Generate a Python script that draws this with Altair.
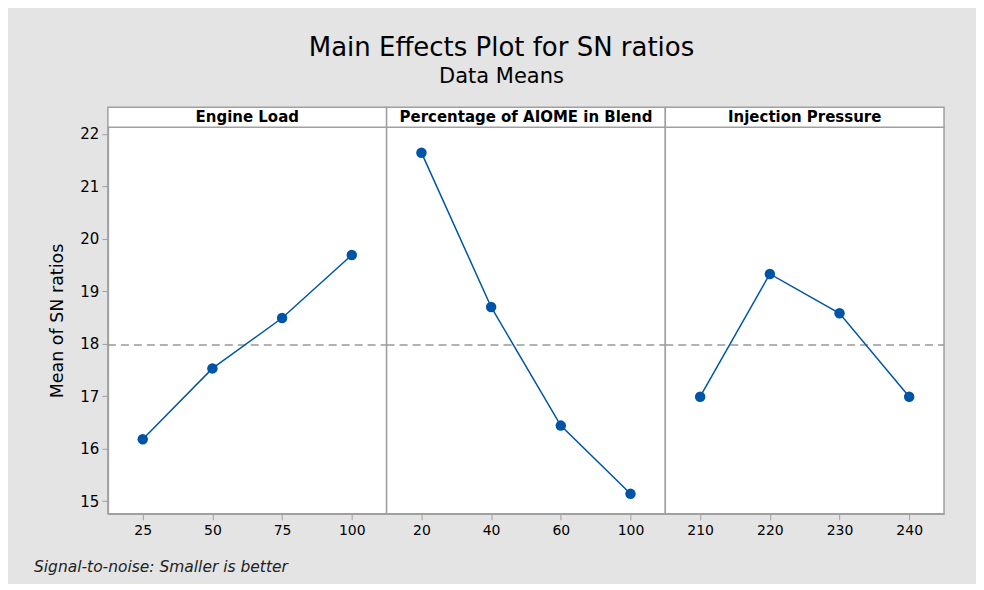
import altair as alt
import pandas as pd
import numpy as np

# ---- data ----
panel_titles = ["Engine Load", "Percentage of AIOME in Blend", "Injection Pressure"]
engine_levels = ["25", "50", "75", "100"]
engine_sn = [16.18, 17.53, 18.49, 19.69]
aiome_levels = ["20", "40", "60", "100"]
aiome_sn = [21.64, 18.70, 16.44, 15.14]
pressure_levels = ["210", "220", "230", "240"]
pressure_sn = [16.99, 19.33, 18.58, 16.99]

y_ticks = [15, 16, 17, 18, 19, 20, 21, 22]
title_text = "Main Effects Plot for SN ratios"
subtitle_text = "Data Means"
y_title = "Mean of SN ratios"
footer_text = "Signal-to-noise: Smaller is better"

grand_mean = float(np.mean(engine_sn + aiome_sn + pressure_sn))

W = 279
H = 387
BLUE = "#0054a6"
GRAY = "#a0a0a0"
YDOM = [14.76, 22.126]
FONT = "DejaVu Sans"


def panel(idx, levels, values):
    title = panel_titles[idx]
    df = pd.DataFrame({"level": levels, "sn": values, "panel": [title] * len(levels),
                       "gm": [grand_mean] * len(levels)})
    base = alt.Chart(df)
    x = alt.X("level:O", sort=levels, scale=alt.Scale(type="point", padding=0.5),
              axis=alt.Axis(title=None, labelAngle=0, labelFontSize=14, labelFont=FONT,
                            labelColor="black", tickColor=GRAY, tickSize=6, domainColor=GRAY,
                            domainWidth=1.5, labelPadding=4))
    if idx == 0:
        yaxis = alt.Axis(title=y_title, values=y_ticks, grid=False, labelFontSize=15,
                         labelFont=FONT, labelColor="black", tickColor=GRAY, tickSize=6,
                         domainColor=GRAY, domainWidth=1.5, titleFontSize=17.5, titleFont=FONT,
                         titleFontWeight="normal", titleColor="black", titlePadding=13,
                         labelPadding=3)
    else:
        yaxis = None
    yscale = alt.Scale(domain=YDOM, nice=False, zero=False)
    y = alt.Y("sn:Q", scale=yscale, axis=yaxis)

    one = base.transform_filter(alt.datum.level == levels[0])
    strip_rect = one.mark_rect(fill="white", stroke=GRAY, strokeWidth=1.5).encode(
        x=alt.value(0), x2=alt.value(W), y=alt.value(-20), y2=alt.value(0))
    strip_text = one.mark_text(font=FONT, fontSize=15, fontWeight="bold",
                               color="black", baseline="middle").encode(
        x=alt.value(W / 2), y=alt.value(-10), text="panel:N")

    rule = one.mark_rule(color="#999999", strokeDash=[8, 5], strokeWidth=1.5).encode(
        y=alt.Y("gm:Q", scale=yscale, axis=yaxis), x=alt.value(0), x2=alt.value(W))

    line = base.mark_line(color=BLUE, strokeWidth=1.5).encode(x=x, y=y)
    pts = base.mark_point(filled=True, color=BLUE, size=110, opacity=1).encode(x=x, y=y)

    layers = [strip_rect, strip_text, rule, line, pts]
    if idx == 0:
        foot = one.mark_text(font=FONT, fontSize=15.5, fontStyle="italic",
                             color="#222222", align="left", baseline="middle").encode(
            x=alt.value(-74), y=alt.value(440), text=alt.value(footer_text))
        # invisible anchor fixing the top-left corner of the canvas
        anchor = one.mark_rect(opacity=0).encode(
            x=alt.value(-94), x2=alt.value(-93), y=alt.value(-113), y2=alt.value(-112))
        layers += [foot, anchor]
    if idx == 1:
        t1 = one.mark_text(font=FONT, fontSize=26, color="black", baseline="alphabetic").encode(
            x=alt.value(115), y=alt.value(-71), text=alt.value(title_text))
        t2 = one.mark_text(font=FONT, fontSize=21, color="black", baseline="alphabetic").encode(
            x=alt.value(115), y=alt.value(-44), text=alt.value(subtitle_text))
        layers += [t1, t2]
    if idx == 2:
        anchor = one.mark_rect(opacity=0).encode(
            x=alt.value(304), x2=alt.value(305), y=alt.value(450), y2=alt.value(451))
        layers.append(anchor)
    return alt.layer(*layers).properties(width=W, height=H)


chart = alt.hconcat(
    panel(0, engine_levels, engine_sn),
    panel(1, aiome_levels, aiome_sn),
    panel(2, pressure_levels, pressure_sn),
    spacing=0,
    bounds="flush",
).configure(background="#e4e4e4").configure_view(fill="white", stroke=GRAY, strokeWidth=1.5)

chart.save("out.html", embed_options={"renderer": "svg", "actions": False})
